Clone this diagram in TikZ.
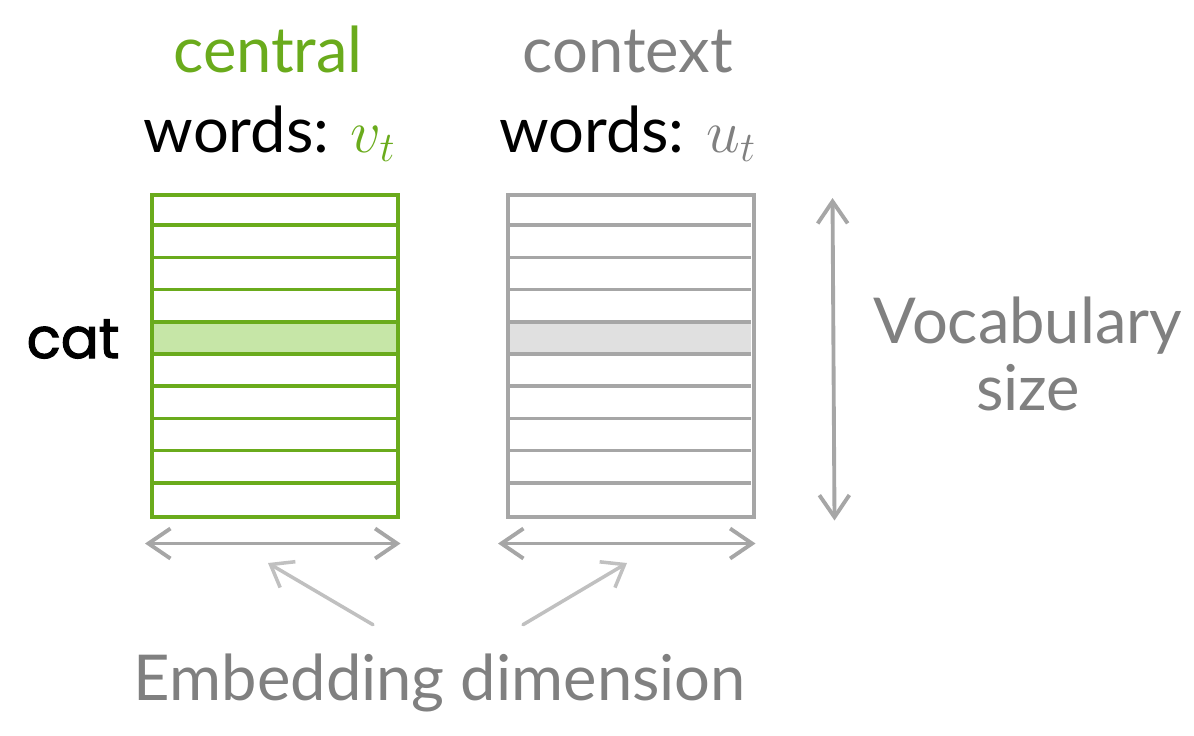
\documentclass[tikz,border=0pt]{standalone}
\usepackage{fontspec}
\setmainfont{Lato}
\newfontfamily\catfont{Poppins}[FakeBold=2]
\usetikzlibrary{arrows.meta,backgrounds,calc}
\definecolor{cgreen}{HTML}{6AAB1C}
\definecolor{cgreenfill}{HTML}{C6E6A7}
\definecolor{xgray}{HTML}{A6A6A6}
\definecolor{xgrayfill}{HTML}{E0E0E0}
\definecolor{txtgray}{HTML}{808080}
\definecolor{ptrgray}{HTML}{C0C0C0}
\begin{document}
\begin{tikzpicture}[x=0.1mm,y=-0.1mm]
    % `matbox' is one embedding matrix, rows are drawn on top of it.
    % `dimarrow' marks a size, `pointer' goes from a caption to an arrow.
    \tikzstyle{matbox} = [draw,line width=1pt,minimum width=24.6mm,minimum height=32.2mm,inner sep=0pt,anchor=north west]
    \tikzstyle{label} = [font=\fontsize{18}{22}\selectfont,anchor=base,inner sep=0pt]
    \tikzstyle{catlabel} = [font=\catfont\fontsize{16}{20}\selectfont,anchor=base,inner sep=0pt]
    \tikzstyle{dimarrow} = [xgray,line width=1.1pt,line cap=round,{Straight Barb[length=2.2mm,width=3mm]}-{Straight Barb[length=2.2mm,width=3mm]}]
    \tikzstyle{pointer} = [ptrgray,line width=1pt,line cap=round,-{Straight Barb[length=2mm,width=3mm]}]
    \useasboundingbox (0,0) rectangle (1194,735);
    %
    \node[matbox,draw=cgreen] (central) at (150,193) {};
    \node[matbox,draw=xgray] (context) at (506,193) {};
    \begin{pgfonlayer}{background}
        % Row of the word `cat'.
        \fill[cgreenfill] ($(central.north west)+(0,4*32.2)$) rectangle ++(246,32.2);
        \fill[xgrayfill] ($(context.north west)+(0,4*32.2)$) rectangle ++(245,32.2);
    \end{pgfonlayer}
    \foreach \i in {1,...,9} {
        \draw[cgreen,line width=1pt] ($(central.north west)+(0,\i*32.2)$) -- ++(246,0);
        \draw[xgray,line width=1pt] ($(context.north west)+(0,\i*32.2)$) -- ++(245,0);
    }
    %
    \node[label,cgreen] (ctitle) at (268,72) {central};
    \node[label] (cwords) at (270,152) {words: \textcolor{cgreen}{$v_t$}};
    \node[label,txtgray] (xtitle) at (628,72) {context};
    \node[label] (xwords) at (628,152) {words: \textcolor{txtgray}{$u_t$}};
    \node[catlabel] (cat) at (73,358) {cat};
    \node[label,txtgray] (vocab) at (1028,343) {Vocabulary};
    \node[label,txtgray] (size) at (1028,410) {size};
    \node[label,txtgray] (embed) at (440,700) {Embedding dimension};
    %
    \draw[dimarrow] ($(central.south west)+(-5,25)$) -- ($(central.south east)+(1,25)$);
    \draw[dimarrow] ($(context.south west)+(-8,25)$) -- ($(context.south east)+(0,25)$);
    \draw[dimarrow] ($(context.north east)+(77,5)$) -- ($(context.south east)+(79,2)$);
    \coordinate (cend) at (268,563);
    \coordinate (xend) at (627,563);
    \draw[pointer] ($(embed.north)+(-67,-28)$) -- (cend);
    \draw[pointer] ($(embed.north)+(83,-28)$) -- (xend);
\end{tikzpicture}
\end{document}
